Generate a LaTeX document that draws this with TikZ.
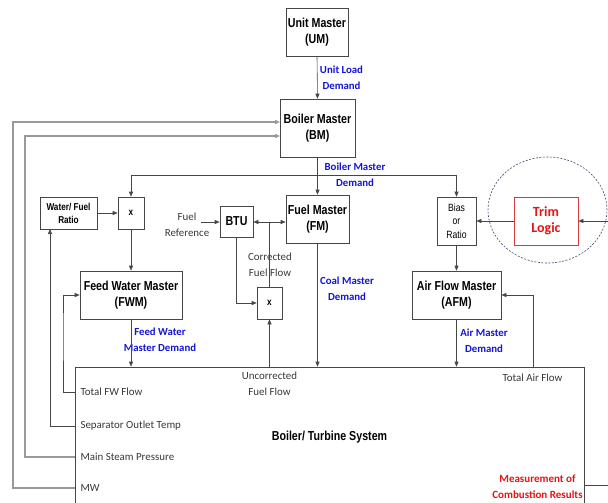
\documentclass[tikz,border=0pt]{standalone}
\usepackage{fontspec}
\setmainfont{Carlito}
\newfontfamily\narrowfont{Liberation Sans}[FakeStretch=0.82]
\usetikzlibrary{arrows.meta}
\definecolor{lblue}{RGB}{20,20,215}
\definecolor{lred}{RGB}{230,20,20}
\definecolor{boxred}{RGB}{210,60,60}
\definecolor{circ}{RGB}{70,70,110}
\definecolor{ln}{RGB}{70,70,70}
\begin{document}
\begin{tikzpicture}[x=1pt,y=-1pt,
  blk/.style={draw=ln, line width=0.6pt, fill=white, inner sep=0pt, align=center,
    font=\narrowfont\bfseries\fontsize{13}{16}\selectfont},
  sblk/.style={blk, font=\narrowfont\bfseries\fontsize{10}{13}\selectfont},
  arr/.style={draw=ln, line width=0.6pt, -{Triangle[length=5pt,width=4pt]}},
  ln/.style={draw=ln, line width=0.6pt},
  gln/.style={draw=black!40, line width=1.4pt},
  garr/.style={gln, -{Triangle[length=5pt,width=4pt]}, draw=black!40},
  blbl/.style={text=lblue, align=center, font=\bfseries\fontsize{10.8}{16}\selectfont},
  gtxt/.style={text=black!78, align=center, font=\fontsize{10.9}{16}\selectfont},
  rtxt/.style={text=lred, align=center, font=\bfseries\fontsize{11}{16}\selectfont}]
\useasboundingbox (0,0) rectangle (608,503);
\clip (0,0) rectangle (608,503);

% boxes
\node[blk, minimum width=62pt, minimum height=48pt] (UM) at (317,32) {Unit Master\\(UM)};
\node[blk, minimum width=75pt, minimum height=58pt] (BM) at (317.5,128) {Boiler Master\\(BM)};
\node[blk, minimum width=63pt, minimum height=48pt] (FM) at (317.5,219) {Fuel Master\\(FM)};
\node[sblk, minimum width=57pt, minimum height=32pt] (WF) at (68.5,213) {Water/ Fuel\\Ratio};
\node[sblk, minimum width=26pt, minimum height=32pt] (X1) at (131,213) {x};
\node[blk, minimum width=102pt, minimum height=48pt] (FWM) at (131,295) {Feed Water Master\\(FWM)};
\node[blk, minimum width=33pt, minimum height=31pt] (BTU) at (236.5,221.5) {BTU};
\node[sblk, minimum width=25pt, minimum height=32pt] (X2) at (269.5,303) {x};
\node[blk, minimum width=39pt, minimum height=48pt,
  font=\narrowfont\fontsize{10.5}{13.5}\selectfont] (BIAS) at (456.5,221) {Bias\\or\\Ratio};
\node[blk, draw=boxred, minimum width=64pt, minimum height=48pt, text=lred,
  font=\bfseries\fontsize{14}{16}\selectfont] (TRIM) at (546,221) {Trim\\Logic};
\node[blk, minimum width=89pt, minimum height=48pt] (AFM) at (456.5,295) {Air Flow Master\\(AFM)};
\node[blk, minimum width=509pt, minimum height=141pt] (SYS) at (329.5,437.5) {Boiler/ Turbine System};

% dashed circle
\draw[circ, line width=0.6pt, dash pattern=on 2pt off 1.5pt] (547.5,210) ellipse [x radius=59.5pt, y radius=53pt];

% labels
\node[blbl] (uld) at (341.5,78) {Unit Load\\Demand};
\node[blbl] (bmd) at (355,175) {Boiler Master\\Demand};
\node[blbl] (cmd) at (347,288.5) {Coal Master\\Demand};
\node[blbl] (fwd) at (160,340) {Feed Water\\Master Demand};
\node[blbl] (amd) at (484,341) {Air Master\\Demand};
\node[gtxt] (fref) at (187,224.5) {Fuel\\Reference};
\node[gtxt] (cff) at (270,264.5) {Corrected\\Fuel Flow};
\node[gtxt] (uff) at (269.5,383.5) {Uncorrected\\Fuel Flow};
\node[gtxt] (taf) at (532.5,378) {Total Air Flow};
\node[gtxt, anchor=west] (tfw) at (77,392) {Total FW Flow};
\node[gtxt, anchor=west] (sot) at (77,426) {Separator Outlet Temp};
\node[gtxt, anchor=west] (msp) at (77,457) {Main Steam Pressure};
\node[gtxt, anchor=west] (mwt) at (77,488) {MW};
\node[rtxt] (mcr) at (537.5,487) {Measurement of\\Combustion Results};

% coordinates
\coordinate (J) at (317,175);
\coordinate (J2) at (269.5,222);
\coordinate (fr) at (201,222);
\coordinate (ctaf) at (533,367);
\coordinate (ctfw) at (75,392);
\coordinate (csot) at (75,426);
\coordinate (cmsp) at (75,457);
\coordinate (cmw) at (75,488);
\coordinate (wfin) at (50,229);
\coordinate (bm1) at (280,122);
\coordinate (bm2) at (280,136);
\coordinate (mr) at (584,485);
\coordinate (rr) at (612,485);

% connectors
\draw[arr] (UM.south) -- (BM.north);
\draw[arr] (BM.south) -- (FM.north);
\draw[arr] (J) -| (X1.north);
\draw[arr] (J) -| (BIAS.north);
\draw[arr] (WF.east |- X1.west) -- (X1.west);
\draw[arr] (X1.south) -- (FWM.north);
\draw[arr] (FWM.south) -- (FWM.south |- SYS.north);
\draw[arr] (fr) -- (fr -| BTU.west);
\draw[arr] (J2) -- (J2 -| BTU.east);
\draw[arr] (J2) -- (J2 -| FM.west);
\draw[ln] (X2.north) -- (J2);
\draw[arr] (BTU.south) |- (X2.west);
\draw[arr] (X2.south |- SYS.north) -- (X2.south);
\draw[arr] (FM.south) -- (FM.south |- SYS.north);
\draw[arr] (TRIM.west) -- (BIAS.east);
\draw[arr] (mr) -- (rr) |- (TRIM.east);
\draw[arr] (BIAS.south) -- (AFM.north);
\draw[arr] (AFM.south) -- (AFM.south |- SYS.north);
\draw[arr] (ctaf) |- (AFM.east);
\draw[arr] (ctfw) -| (63,330) |- (FWM.west);
\draw[arr] (csot) -| (wfin);
\draw[garr] (cmsp) -| (25,300) |- (bm2);
\draw[garr] (cmw) -| (13,300) |- (bm1);
\end{tikzpicture}
\end{document}
